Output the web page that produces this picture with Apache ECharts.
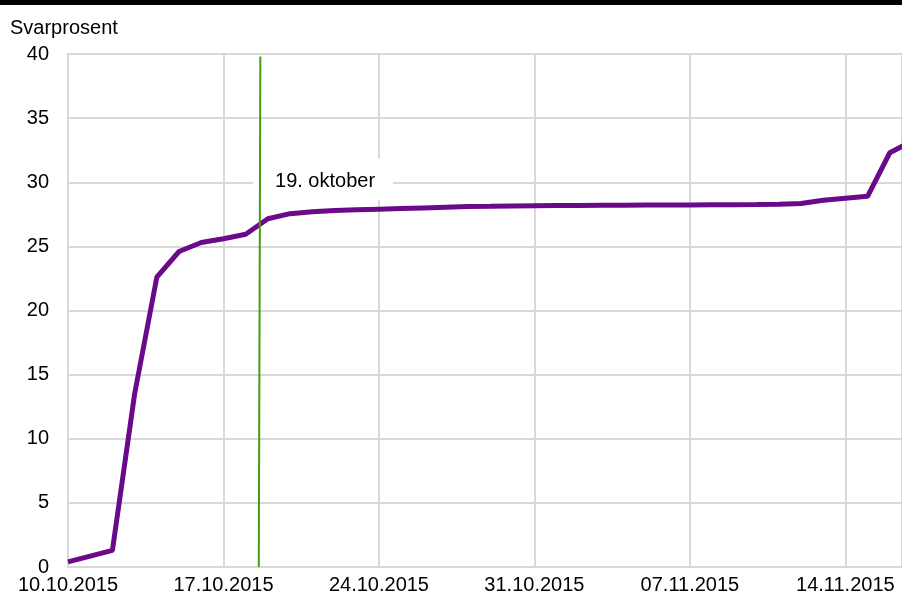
<!DOCTYPE html>
<html><head><meta charset="utf-8">
<script src="https://cdn.jsdelivr.net/npm/echarts@6/dist/echarts.min.js"></script>
<style>html,body{margin:0;padding:0;background:#fff}#c{width:902px;height:595px}</style>
</head><body><div id="c"></div>
<script>
// Data
const startDate = '2015-10-10';
const dates = ['2015-10-10','2015-10-11','2015-10-12','2015-10-13','2015-10-14','2015-10-15','2015-10-16','2015-10-17','2015-10-18','2015-10-19','2015-10-20','2015-10-21','2015-10-22','2015-10-23','2015-10-24','2015-10-25','2015-10-26','2015-10-27','2015-10-28','2015-10-29','2015-10-30','2015-10-31','2015-11-01','2015-11-02','2015-11-03','2015-11-04','2015-11-05','2015-11-06','2015-11-07','2015-11-08','2015-11-09','2015-11-10','2015-11-11','2015-11-12','2015-11-13','2015-11-14','2015-11-15','2015-11-16','2015-11-17'];
const svarprosent = [0.4,0.85,1.3,13.5,22.6,24.6,25.3,25.6,25.95,27.15,27.55,27.7,27.8,27.85,27.9,27.95,28.0,28.05,28.1,28.12,28.15,28.17,28.18,28.18,28.2,28.2,28.22,28.22,28.23,28.24,28.25,28.26,28.28,28.35,28.6,28.75,28.9,32.3,33.2];
const yTicks = [0,5,10,15,20,25,30,35,40];
const markerX = [8.66, 8.59];     // day offsets of the green "19. oktober" marker (top, bottom)
const markerY = [39.8, 0];
const markerText = '19. oktober';
const yAxisName = 'Svarprosent';
const xMaxDays = 37.55;

const DAY = 86400000;
const t0 = Date.parse(startDate + 'T00:00:00Z');
const dayOf = d => Math.round((Date.parse(d + 'T00:00:00Z') - t0) / DAY);
const fmt = v => {
  const d = new Date(t0 + v * DAY);
  const p = n => String(n).padStart(2, '0');
  return p(d.getUTCDate()) + '.' + p(d.getUTCMonth() + 1) + '.' + d.getUTCFullYear();
};

const chart = echarts.init(document.getElementById('c'));
const FONT = 'Liberation Sans, Arial, sans-serif';
chart.setOption({
  animation: false,
  textStyle: { fontFamily: FONT },
  title: { text: yAxisName, left: 10, top: 18, padding: 0, textStyle: { fontSize: 20, fontWeight: 'normal', color: '#000', fontFamily: FONT } },
  grid: { left: 68, right: 0, top: 54, bottom: 27, containLabel: false },
  xAxis: {
    type: 'value', min: 0, max: xMaxDays, interval: 7,
    axisLine: { show: true, lineStyle: { color: '#d9d9d9', width: 2 } },
    axisTick: { show: false },
    splitLine: { show: true, lineStyle: { color: '#d9d9d9', width: 2 } },
    axisLabel: { fontSize: 20, color: '#000', margin: 8, showMaxLabel: false,
      formatter: v => (Math.abs(v % 7) < 1e-6 ? fmt(v) : '') }
  },
  yAxis: {
    type: 'value', min: yTicks[0], max: yTicks[yTicks.length - 1], interval: 5,
    axisLine: { show: true, lineStyle: { color: '#d9d9d9', width: 2 } },
    axisTick: { show: false },
    splitLine: { show: true, lineStyle: { color: '#d9d9d9', width: 2 } },
    axisLabel: { fontSize: 20, color: '#000', margin: 19 }
  },
  series: [
    {
      type: 'line', z: 3,
      data: dates.map((d, i) => [dayOf(d), svarprosent[i]]),
      showSymbol: false, symbol: 'none',
      lineStyle: { color: '#6a0a8a', width: 5 },
      clip: true
    },
    {
      type: 'line', z: 4, silent: true,
      data: markerX.map((x, i) => [x, markerY[i]]),
      showSymbol: false, symbol: 'none',
      lineStyle: { color: '#4a9a14', width: 2 }
    }
  ]
});

const p = chart.convertToPixel({ gridIndex: 0 }, [8.33, 30.2]);
chart.setOption({
  graphic: [
    { type: 'rect', left: 0, top: 0, shape: { x: 0, y: 0, width: 902, height: 5 }, style: { fill: '#000' }, z: 10 },
    { type: 'rect', z: 1, shape: { x: p[0], y: p[1] - 21, width: 140, height: 41 }, style: { fill: '#fff' } },
    { type: 'text', z: 5, x: p[0] + 22, y: p[1] + 2, style: { text: markerText, fontSize: 20, fontFamily: FONT, fill: '#000', verticalAlign: 'middle', align: 'left' } }
  ]
});
</script></body></html>
